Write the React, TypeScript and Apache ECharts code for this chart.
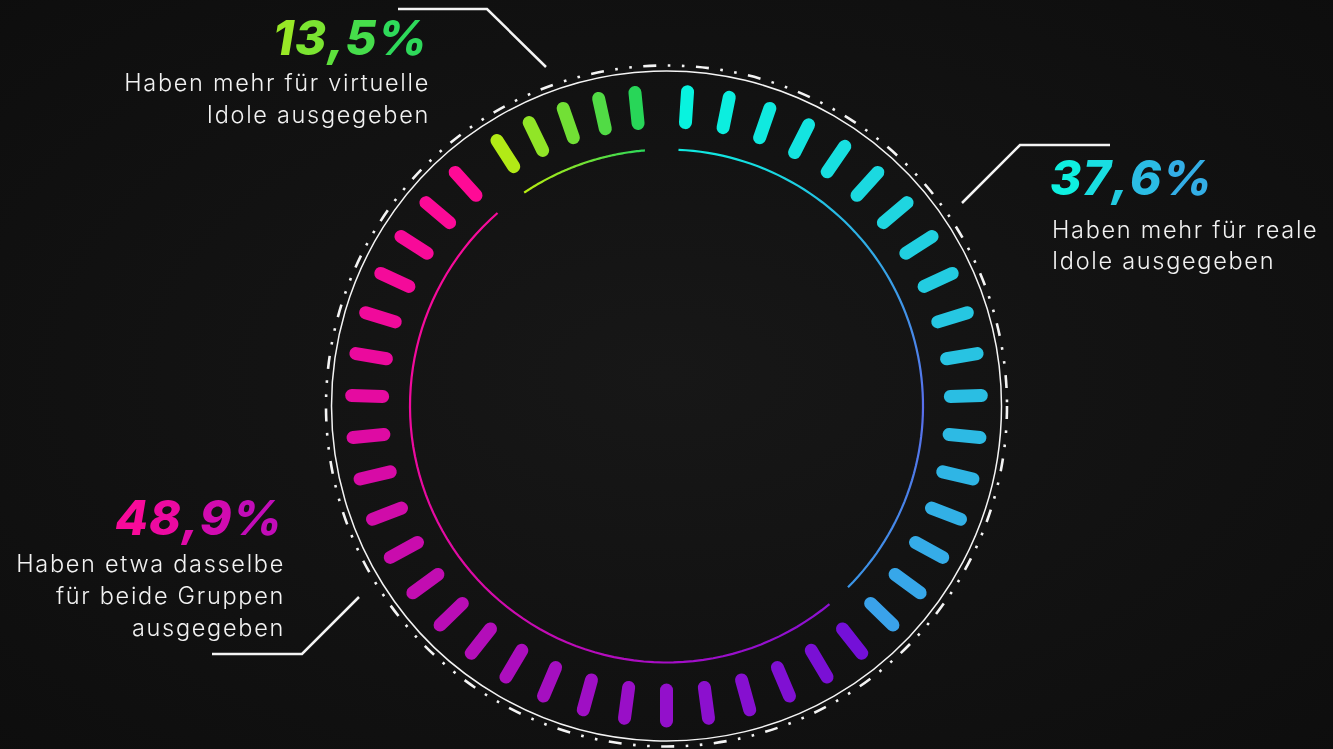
import React, { useEffect, useRef } from "react";
import * as echarts from "echarts";

// ---- data (clockwise from the top) ----
const SEGMENTS = ["reale Idole", "beide Gruppen", "virtuelle Idole"];
const PERCENT_VALUES = [37.6, 48.9, 13.5];
const PERCENT_LABELS = ["37,6%", "48,9%", "13,5%"];
const TICK_COUNTS = [18, 24, 5];
const DESCRIPTIONS = [
  ["Haben mehr für reale", "Idole ausgegeben"],
  ["Haben etwa dasselbe", "für beide Gruppen", "ausgegeben"],
  ["Haben mehr für virtuelle", "Idole ausgegeben"],
];

// ---- styling ----
const TICK_SPACING = [1, 1, 0.875];
const TICK_COLORS = [
  ["#08f3df", "#1ed6e0", "#2bbde3", "#3aa2ea"],
  ["#7410d8", "#9010cc", "#ad0ebc", "#cf0caa", "#ee0a9c", "#ff0a96"],
  ["#b2ea16", "#86e32c", "#5edd3e", "#28d658"],
];
const ARC_GRADIENTS = [
  { dir: [0, 0, 0, 1], stops: [[0, "#10e8e0"], [0.15, "#28b8e4"], [0.59, "#5a6eec"], [1, "#3a96e8"]] },
  { dir: [0, 0, 1, 1], stops: [[0, "#ff0a98"], [0.45, "#e00aa4"], [0.75, "#b00cc0"], [1, "#8212d8"]] },
  { dir: [0, 0, 1, 0], stops: [[0, "#b8ec10"], [1, "#2ad85a"]] },
];
const LABEL_GRADIENTS = [
  ["#0ff0e0", "#22cce2", "#33aee6"],
  ["#f80a9a", "#e00aa8", "#c20cb8"],
  ["#98e826", "#5ee03c", "#2ed95a"],
];

const CX = 666.5;
const CY = 406;
const TICK_R0 = 284;
const TICK_R1 = 315;
const ARC_R = 256.5;

export default function App() {
  const ref = useRef<HTMLDivElement>(null);

  useEffect(() => {
    if (!ref.current) return;
    document.body.style.margin = "0";
    const chart = echarts.init(ref.current, undefined, { renderer: "svg" });

    const totalTicks = TICK_COUNTS.reduce((a, b) => a + b, 0);

    // tick data: [angle position, segment, position within segment]
    const tickData: number[][] = [];
    const arcData: number[][] = [];
    let idx = 0;
    TICK_COUNTS.forEach((n, s) => {
      const center = idx + (n - 1) / 2;
      const pos: number[] = [];
      for (let k = 0; k < n; k++) {
        const p = center + (k - (n - 1) / 2) * TICK_SPACING[s];
        pos.push(p);
        tickData.push([p, s, n > 1 ? k / (n - 1) : 0]);
      }
      arcData.push([pos[0] - 0.15, pos[n - 1] + 0.12, s]);
      idx += n;
    });

    const lerpColor = (stops: string[], t: number) =>
      echarts.color.lerp(t, stops) as string;

    const PCT_SIZE = 48;
    const PCT_PAD = 0.5;
    const SUB_SIZE = 23.5;

    const percentText = (s: number, x: number, baseline: number, align: string) => {
      const chars = PERCENT_LABELS[s].split("");
      const rich: any = {};
      const parts = chars.map((ch, i) => {
        const key = `p${s}c${i}`;
        rich[key] = {
          fill: lerpColor(LABEL_GRADIENTS[s], chars.length > 1 ? i / (chars.length - 1) : 0),
          fontSize: PCT_SIZE,
          fontWeight: 800,
          fontStyle: "italic",
          fontFamily: "Inter",
          padding: [0, PCT_PAD],
        };
        return `{${key}|${ch}}`;
      });
      return {
        type: "text",
        x: align === "right" ? x + PCT_PAD : x - PCT_PAD,
        y: baseline - PCT_SIZE * 0.37,
        silent: true,
        style: {
          text: parts.join(""),
          rich,
          font: `italic 800 ${PCT_SIZE}px Inter`,
          textAlign: align,
          textVerticalAlign: "middle",
        },
      };
    };

    const textLine = (text: string, x: number, baseline: number, align: string) => ({
      type: "text",
      x,
      y: baseline - SUB_SIZE * 0.36,
      silent: true,
      style: {
        text,
        fill: "#f2f2f2",
        font: `300 ${SUB_SIZE}px Inter`,
        textAlign: align,
        textVerticalAlign: "middle",
      },
    });

    // label layout (per segment)
    const labelLayout = [
      { x: 1050, align: "left", pct: 195, lines: [238, 269], lx: 1052 },
      { x: 282, align: "right", pct: 535, lines: [572, 604, 636], lx: 285 },
      { x: 427, align: "right", pct: 55, lines: [91, 123], lx: 430 },
    ];

    const texts: any[] = [];
    SEGMENTS.forEach((_, s) => {
      const L = labelLayout[s];
      texts.push(percentText(s, L.x, L.pct, L.align));
      DESCRIPTIONS[s].forEach((line, i) => {
        texts.push(textLine(line, L.lx, L.lines[i], L.align));
      });
    });

    const hiddenAxis = {
      show: false,
      axisLine: { show: false },
      axisTick: { show: false },
      axisLabel: { show: false },
      splitLine: { show: false },
    };

    const option: any = {
      animation: false,
      backgroundColor: new echarts.graphic.RadialGradient(0.5, 0.5, 0.75, [
        { offset: 0, color: "#171717" },
        { offset: 1, color: "#0d0d0d" },
      ]),
      polar: { center: [CX, CY], radius: 345 },
      radiusAxis: { type: "value", min: 0, max: 345, ...hiddenAxis },
      angleAxis: {
        type: "value",
        min: 0,
        max: totalTicks,
        startAngle: 90 - 180 / totalTicks,
        clockwise: true,
        ...hiddenAxis,
      },
      series: [
        {
          type: "custom",
          coordinateSystem: "polar",
          silent: true,
          data: tickData,
          renderItem: (params: any, api: any) => {
            const i = api.value(0);
            const s = api.value(1);
            const t = api.value(2);
            const p1 = api.coord([TICK_R0, i]);
            const p2 = api.coord([TICK_R1, i]);
            return {
              type: "line",
              shape: { x1: p1[0], y1: p1[1], x2: p2[0], y2: p2[1] },
              style: {
                stroke: lerpColor(TICK_COLORS[s], t),
                lineWidth: 13,
                lineCap: "round",
              },
            };
          },
        },
        {
          type: "custom",
          coordinateSystem: "polar",
          silent: true,
          data: arcData,
          renderItem: (params: any, api: any) => {
            const a = api.value(0);
            const b = api.value(1);
            const s = api.value(2);
            const pts: number[][] = [];
            const N = 80;
            for (let k = 0; k <= N; k++) {
              pts.push(api.coord([ARC_R, a + ((b - a) * k) / N]));
            }
            const g = ARC_GRADIENTS[s];
            return {
              type: "polyline",
              shape: { points: pts },
              style: {
                fill: "none",
                stroke: new echarts.graphic.LinearGradient(
                  g.dir[0], g.dir[1], g.dir[2], g.dir[3],
                  g.stops.map(([o, c]) => ({ offset: o as number, color: c as string }))
                ),
                lineWidth: 2.2,
                lineCap: "butt",
              },
            };
          },
        },
      ],
      graphic: [
        {
          type: "circle",
          silent: true,
          shape: { cx: CX, cy: CY, r: 335 },
          style: { fill: "none", stroke: "#f4f4f4", lineWidth: 1.5 },
        },
        {
          type: "circle",
          silent: true,
          shape: { cx: CX, cy: CY, r: 340.5 },
          style: {
            fill: "none",
            stroke: "#f4f4f4",
            lineWidth: 2.6,
            lineDash: [13, 11.5, 2.6, 11.5, 2.6, 11.5],
          },
        },
        {
          type: "polyline",
          silent: true,
          shape: { points: [[398, 9], [487, 9], [546, 67]] },
          style: { fill: "none", stroke: "#f4f4f4", lineWidth: 2.5 },
        },
        {
          type: "polyline",
          silent: true,
          shape: { points: [[1110, 145], [1020, 145], [962, 203]] },
          style: { fill: "none", stroke: "#f4f4f4", lineWidth: 2.5 },
        },
        {
          type: "polyline",
          silent: true,
          shape: { points: [[212, 654], [302, 654], [359, 597]] },
          style: { fill: "none", stroke: "#f4f4f4", lineWidth: 2.5 },
        },
        ...texts,
      ],
    };

    chart.setOption(option);
    return () => chart.dispose();
  }, []);

  return (
    <>
      <style>{`#root svg text { font-feature-settings: "cv11" 1; }
#root svg text[style*="300"] { letter-spacing: 1.7px; }`}</style>
      <div
        ref={ref}
        style={{ position: "fixed", left: 0, top: 0, width: 1333, height: 749 }}
      />
    </>
  );
}
